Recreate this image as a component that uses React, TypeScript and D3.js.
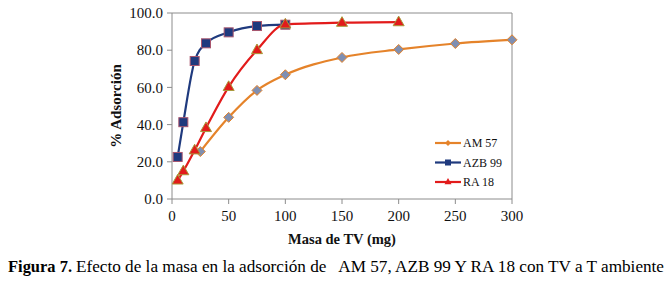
import React from "react";
import * as d3 from "d3";

const xAM = [25, 50, 75, 100, 150, 200, 250, 300];
const yAM = [25.5, 43.9, 58.4, 66.8, 76.1, 80.4, 83.6, 85.6];
const xAZB = [5, 10, 20, 30, 50, 75, 100];
const yAZB = [22.6, 41.3, 74.2, 83.7, 89.6, 93.0, 93.7];
const xRA = [5, 10, 20, 30, 50, 75, 100, 150, 200];
const yRA = [10.0, 15.0, 26.2, 38.2, 60.3, 80.1, 93.9, 94.8, 95.1];
const xTicks = [0, 50, 100, 150, 200, 250, 300];
const yTicks = [0, 20, 40, 60, 80, 100];
const seriesNames = ["AM 57", "AZB 99", "RA 18"];

const L = 172, R = 512, T = 13, B = 199;
const axisColor = "#8c8c8c";
const serif = "'Times New Roman', Tinos, 'Liberation Serif', 'DejaVu Serif', 'Noto Serif', serif";

export default function App() {
  const x = d3.scaleLinear().domain([0, 300]).range([L, R]);
  const y = d3.scaleLinear().domain([0, 100]).range([B, T]);
  const line = d3
    .line<[number, number]>()
    .x((d) => x(d[0]))
    .y((d) => y(d[1]))
    .curve(d3.curveMonotoneX);

  const am = xAM.map((v, i) => [v, yAM[i]] as [number, number]);
  const azb = xAZB.map((v, i) => [v, yAZB[i]] as [number, number]);
  const ra = xRA.map((v, i) => [v, yRA[i]] as [number, number]);

  const diamond = (cx: number, cy: number, r: number) =>
    `M${cx},${cy - r}L${cx + r},${cy}L${cx},${cy + r}L${cx - r},${cy}Z`;
  const tri = (cx: number, cy: number, r: number) =>
    `M${cx},${cy - r}L${cx + r},${cy + r * 0.75}L${cx - r},${cy + r * 0.75}Z`;

  const cAM = "#e5832a", cAZB = "#1f3a7e", cRA = "#e21b1b";
  const ts = { fontFamily: serif };

  return (
    <svg width={668} height={285} style={{ position: "absolute", left: 0, top: 0, background: "#fff", fontFamily: serif }}>
      <rect x={0} y={0} width={668} height={285} fill="#fff" />
      <line x1={L} y1={T} x2={R} y2={T} stroke={axisColor} strokeWidth={1} />
      <line x1={R} y1={T} x2={R} y2={B} stroke={axisColor} strokeWidth={1} />
      <line x1={L} y1={T} x2={L} y2={B} stroke={axisColor} strokeWidth={1} />
      <line x1={L} y1={B} x2={R} y2={B} stroke={axisColor} strokeWidth={1} />
      {yTicks.map((t) => (
        <g key={"y" + t}>
          <line x1={L - 5} x2={L} y1={y(t)} y2={y(t)} stroke={axisColor} />
          <text x={L - 9} y={y(t)} dy="0.35em" textAnchor="end" style={ts} fontSize={15} fill="#111">
            {t.toFixed(1)}
          </text>
        </g>
      ))}
      {xTicks.map((t) => (
        <g key={"x" + t}>
          <line x1={x(t)} x2={x(t)} y1={B} y2={B + 5} stroke={axisColor} />
          <text x={x(t)} y={221} textAnchor="middle" style={ts} fontSize={15} fill="#111">
            {t}
          </text>
        </g>
      ))}
      <text x={(L + R) / 2} y={244} textAnchor="middle" style={ts} fontSize={14.5} fontWeight="bold" fill="#111">
        Masa de TV (mg)
      </text>
      <text
        transform={`translate(121,${(T + B) / 2}) rotate(-90)`}
        textAnchor="middle"
        style={ts}
        fontSize={15}
        fontWeight="bold"
        fill="#111"
      >
        % Adsorción
      </text>

      <path d={line(am) || ""} fill="none" stroke={cAM} strokeWidth={2.2} />
      <path d={line(azb) || ""} fill="none" stroke={cAZB} strokeWidth={2.2} />
      <path d={line(ra) || ""} fill="none" stroke={cRA} strokeWidth={2.2} />
      {am.map((d, i) => (
        <path key={"am" + i} d={diamond(x(d[0]), y(d[1]), 5)} fill="#7f8fb2" stroke={cAM} strokeWidth={1} />
      ))}
      {azb.map((d, i) => (
        <rect key={"azb" + i} x={x(d[0]) - 4.5} y={y(d[1]) - 4.5} width={9} height={9} fill={cAZB} stroke="#a8566e" strokeWidth={1} />
      ))}
      {ra.map((d, i) => (
        <path key={"ra" + i} d={tri(x(d[0]), y(d[1]) - 0.5, 5.5)} fill={cRA} stroke="#a89a3a" strokeWidth={1} />
      ))}

      {seriesNames.map((n, i) => {
        const ly = 143 + i * 19.5;
        const col = [cAM, cAZB, cRA][i];
        return (
          <g key={n}>
            <line x1={435} x2={461} y1={ly} y2={ly} stroke={col} strokeWidth={2.2} />
            {i === 0 && <path d={diamond(448, ly, 3)} fill={col} />}
            {i === 1 && <rect x={445} y={ly - 3} width={6} height={6} fill={col} />}
            {i === 2 && <path d={tri(448, ly - 0.5, 3.5)} fill={col} />}
            <text x={463} y={ly} dy="0.35em" style={ts} fontSize={12} fill="#111">
              {n}
            </text>
          </g>
        );
      })}

      <text x={8} y={272} style={ts} fontSize={17} fontWeight="bold" fill="#000" textLength={64} lengthAdjust="spacingAndGlyphs">
        Figura 7.
      </text>
      <text x={76} y={272} style={{ ...ts, whiteSpace: "pre" }} fontSize={17} fill="#000" textLength={588} lengthAdjust="spacingAndGlyphs">
        {"Efecto de la masa en la adsorción de   AM 57, AZB 99 Y RA 18 con TV a T ambiente"}
      </text>
    </svg>
  );
}
